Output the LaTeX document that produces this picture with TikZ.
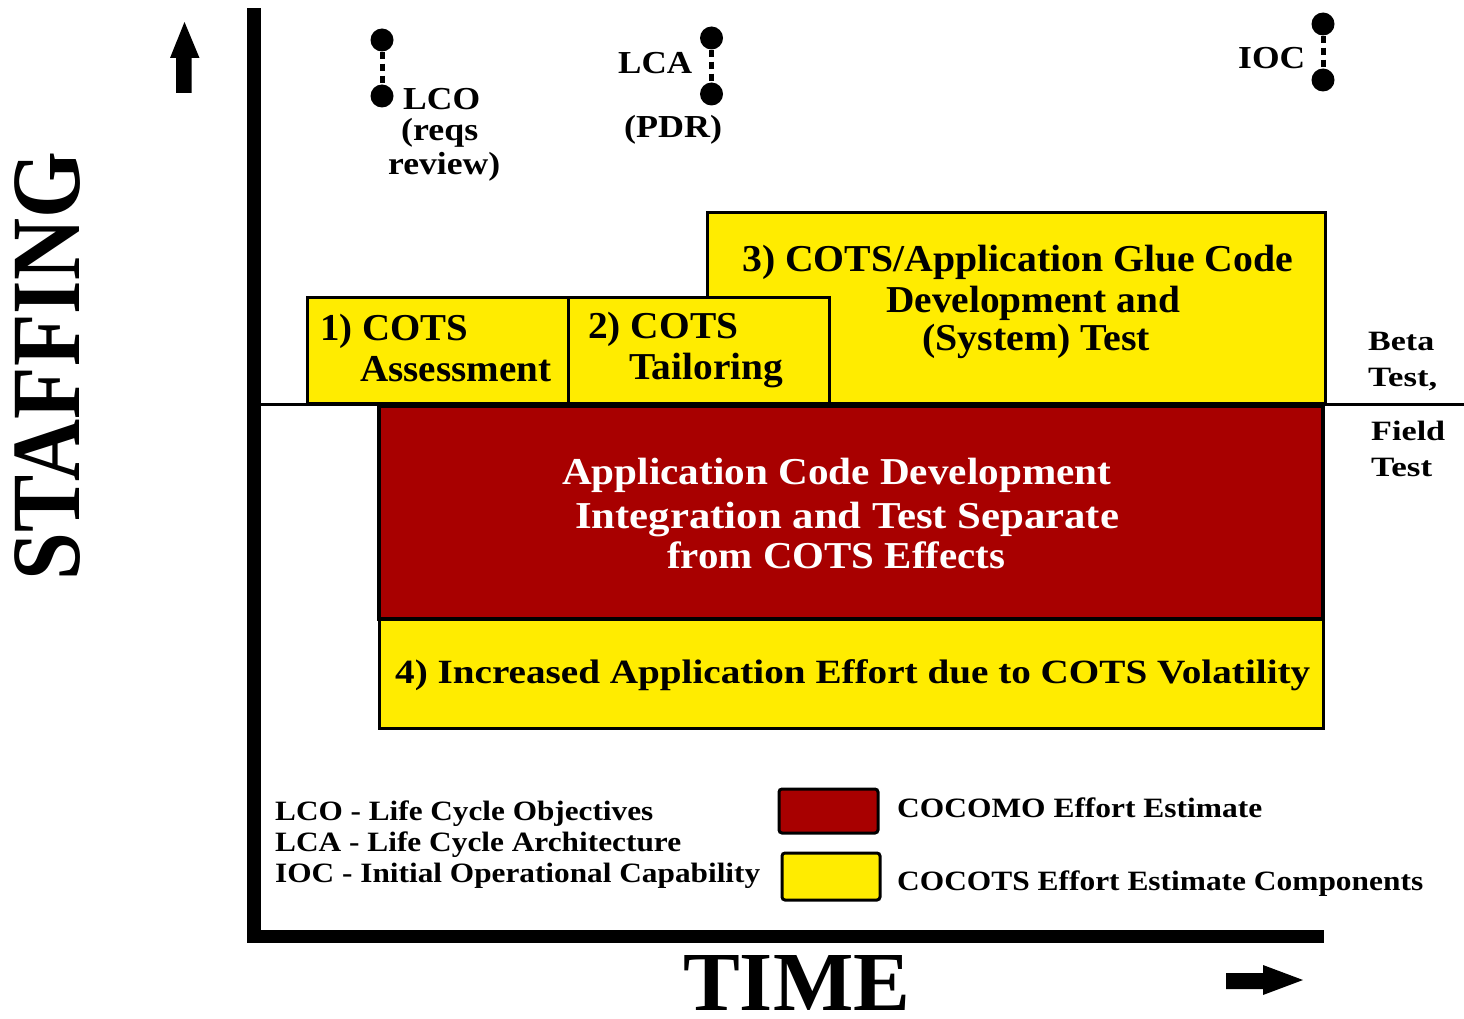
\documentclass[tikz,border=0pt]{standalone}
\usepackage{fontspec}
\setmainfont{Liberation Serif}
\usepackage{graphicx}
\definecolor{cyel}{HTML}{FFEC00}
\definecolor{cred}{HTML}{A80000}
\newcommand\wtext[2]{\resizebox{#1pt}{\height}{#2}}
\begin{document}
\begin{tikzpicture}[x=1pt,y=-1pt,
  ybox/.style={fill=cyel,draw=black,line width=3pt},
  rbox/.style={fill=cred,draw=black,line width=3.5pt},
  lbl/.style={inner sep=0pt,anchor=base west,font=\fontsize{38}{40}\selectfont\bfseries},
  wlbl/.style={lbl,text=white},
  blbl/.style={lbl,font=\fontsize{34}{36}\selectfont\bfseries},
  mlbl/.style={lbl,font=\fontsize{32}{34}\selectfont\bfseries},
  slbl/.style={lbl,font=\fontsize{28}{30}\selectfont\bfseries},
  dot/.style={circle,fill=black,inner sep=0pt,minimum size=23pt},
  msline/.style={line width=5pt,dash pattern=on 7pt off 5pt},
]
\useasboundingbox (0,0) rectangle (1464,1019);
\fill[white] (0,0) rectangle (1464,1019);

% axes
\fill[black] (247,8) rectangle (261,943);
\fill[black] (247,930) rectangle (1324,943);
% up arrow
\fill[black] (184.5,22) -- (199.5,58) -- (191.5,58) -- (191.5,93) -- (176,93) -- (176,58) -- (170,58) -- cycle;
% right arrow
\fill[black] (1303,980) -- (1263,995) -- (1263,989) -- (1226,989) -- (1226,973) -- (1263,973) -- (1263,965) -- cycle;

% axis titles
\node[inner sep=0pt,rotate=90,font=\fontsize{98}{100}\selectfont\bfseries] (staff) at (47.5,366) {\wtext{428}{STAFFING}};
\node[inner sep=0pt,anchor=base west,font=\fontsize{84}{88}\selectfont\bfseries] (time) at (683,1010) {\wtext{227}{TIME}};

% boxes
\draw[ybox] (707,213) rectangle (1325,403);
\draw[ybox] (307,297) rectangle (568,403);
\draw[ybox] (568,297) rectangle (829,403);
\draw[black,line width=3pt] (261,404) -- (1464,404);
\draw[rbox] (379,406) rectangle (1323,619);
\draw[ybox] (379,619) rectangle (1323,728);

% box texts
\node[lbl] (t1a) at (320,340) {\wtext{148}{1) COTS}};
\node[lbl] (t1b) at (360,381) {\wtext{191}{Assessment}};
\node[lbl] (t2a) at (588,338) {\wtext{150}{2) COTS}};
\node[lbl] (t2b) at (629,379) {\wtext{154}{Tailoring}};
\node[lbl] (t3a) at (742,271) {\wtext{551}{3) COTS/Application Glue Code}};
\node[lbl] (t3b) at (886,312) {\wtext{294}{Development and}};
\node[lbl] (t3c) at (922,350) {\wtext{228}{(System) Test}};
\node[wlbl] (tra) at (562,484) {\wtext{549}{Application Code Development}};
\node[wlbl] (trb) at (575,528) {\wtext{544}{Integration and Test Separate}};
\node[wlbl] (trc) at (667,568) {\wtext{338}{from COTS Effects}};
\node[blbl] (t4) at (395,683) {\wtext{915}{4) Increased Application Effort due to COTS Volatility}};

% beta / field test
\node[slbl] (beta1) at (1368,350) {\wtext{66}{Beta}};
\node[slbl] (beta2) at (1368,386) {\wtext{69}{Test,}};
\node[slbl] (field1) at (1371,440) {\wtext{74}{Field}};
\node[slbl] (field2) at (1371,476) {\wtext{61}{Test}};

% milestones
\node[dot] (lco1) at (382,40) {};
\node[dot] (lco2) at (382,96) {};
\draw[msline] (lco1) -- (lco2);
\node[dot] (lca1) at (711.5,38) {};
\node[dot] (lca2) at (711.5,94) {};
\draw[msline] (lca1) -- (lca2);
\node[dot] (ioc1) at (1323,24) {};
\node[dot] (ioc2) at (1323,80) {};
\draw[msline] (ioc1) -- (ioc2);

\node[mlbl] (mlco) at (403,110) {\wtext{77}{LCO}};
\node[mlbl] (mreq) at (401,141) {\wtext{77}{(reqs}};
\node[mlbl] (mrev) at (388,175) {\wtext{112}{review)}};
\node[mlbl] (mlca) at (618,74) {\wtext{74}{LCA}};
\node[mlbl] (mpdr) at (624,138) {\wtext{98}{(PDR)}};
\node[mlbl] (mioc) at (1238,69) {\wtext{67}{IOC}};

% legend
\node[slbl] (lg1) at (275,820) {\wtext{378}{LCO - Life Cycle Objectives}};
\node[slbl] (lg2) at (275,851) {\wtext{406}{LCA - Life Cycle Architecture}};
\node[slbl] (lg3) at (275,882) {\wtext{485}{IOC - Initial Operational Capability}};
\draw[fill=cred,draw=black,line width=3pt,rounded corners=3pt] (779,789) rectangle (878,833);
\draw[fill=cyel,draw=black,line width=3pt,rounded corners=3pt] (782,853) rectangle (880,900);
\node[slbl] (lgr) at (897,817) {\wtext{365}{COCOMO Effort Estimate}};
\node[slbl] (lgy) at (897,890) {\wtext{526}{COCOTS Effort Estimate Components}};
\end{tikzpicture}
\end{document}
